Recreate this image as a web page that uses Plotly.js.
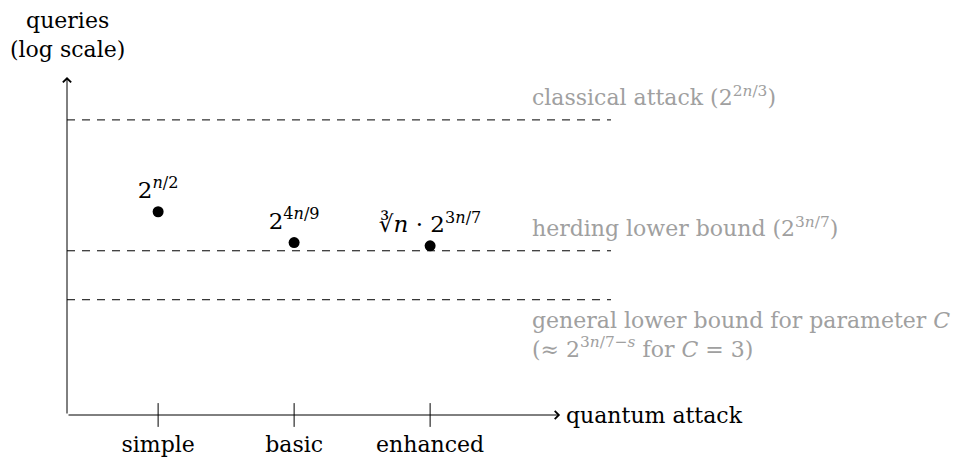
<!DOCTYPE html>
<html>
<head>
<meta charset="utf-8">
<script src="https://cdn.plot.ly/plotly-3.0.1.min.js"></script>
<style>
  html, body { margin: 0; padding: 0; background: #fff; }
  #chart { width: 962px; height: 459px; }
</style>
</head>
<body>
<div id="chart"></div>
<script>
// Quantum attack variants along the horizontal axis
const attacks = ['simple', 'basic', 'enhanced'];
const attackPos = [1, 2, 3];

// Query cost of each attack, as the exponent e in 2^(e·n) (log scale)
const attackExp = [0.5, 0.444, 0.438];
const attackLabels = [
  '2<sup><i>n</i>/2</sup>',
  '2<sup>4<i>n</i>/9</sup>',
  '∛<i>n</i> · 2<sup>3<i>n</i>/7</sup>'
];

// Reference bounds drawn as dashed horizontal lines
const boundExp = [0.667, 0.429, 0.34];
const boundLabels = [
  'classical attack (2<sup>2<i>n</i>/3</sup>)',
  'herding lower bound (2<sup>3<i>n</i>/7</sup>)',
  'general lower bound for parameter <i>C</i><br>(≈ 2<sup>3<i>n</i>/7−<i>s</i></sup> for <i>C</i> = 3)'
];

// Axis extents
const xRange = [0.33, 4.33];
const yRange = [0.1304, 0.745];
const xArrowEnd = 3.956;

const FONT = 'DejaVu Serif, Liberation Serif, serif';
const GREY = '#a0a0a0';

const traces = [];

// dashed bound lines across the plot
boundExp.forEach(function (v) {
  traces.push({
    type: 'scatter', mode: 'lines',
    x: [xRange[0], xRange[1]], y: [v, v],
    line: { color: '#000', width: 1, dash: '8px,7px' },
    hoverinfo: 'skip', showlegend: false
  });
});

// tick marks crossing the horizontal axis
traces.push({
  type: 'scatter', mode: 'markers',
  x: attackPos, y: attackPos.map(function () { return yRange[0]; }),
  marker: { symbol: 'line-ns-open', size: 17, color: '#000', line: { color: '#000', width: 1 } },
  cliponaxis: false, hoverinfo: 'skip', showlegend: false
});

// attack cost points with their formulas
traces.push({
  type: 'scatter', mode: 'markers+text',
  x: attackPos, y: attackExp,
  text: attackLabels, textposition: 'top center',
  textfont: { family: FONT, size: 23, color: '#000' },
  marker: { color: '#000', size: 11 },
  cliponaxis: false, hoverinfo: 'skip', showlegend: false
});

const annotations = [];

// vertical axis with arrow
annotations.push({
  x: xRange[0], y: yRange[1], xref: 'x', yref: 'y',
  ax: xRange[0], ay: yRange[0], axref: 'x', ayref: 'y',
  text: '', showarrow: true, arrowhead: 4, arrowsize: 1.6, arrowwidth: 1, arrowcolor: '#000'
});
// horizontal axis with arrow
annotations.push({
  x: xArrowEnd, y: yRange[0], xref: 'x', yref: 'y',
  ax: xRange[0], ay: yRange[0], axref: 'x', ayref: 'y',
  text: '', showarrow: true, arrowhead: 4, arrowsize: 1.6, arrowwidth: 1, arrowcolor: '#000'
});

// axis titles
annotations.push({
  x: xRange[0], y: yRange[1], xref: 'x', yref: 'y',
  xanchor: 'center', yanchor: 'bottom', yshift: 13,
  text: 'queries<br>(log scale)', showarrow: false,
  font: { family: FONT, size: 22, color: '#000' }
});
annotations.push({
  x: xArrowEnd, y: yRange[0], xref: 'x', yref: 'y',
  xanchor: 'left', yanchor: 'middle', xshift: 4,
  text: 'quantum attack', showarrow: false,
  font: { family: FONT, size: 22, color: '#000' }
});

// bound labels
const boundLabelX = 3.735;
boundLabels.forEach(function (t, i) {
  const below = i === 2;
  annotations.push({
    x: boundLabelX, y: boundExp[i], xref: 'x', yref: 'y',
    xanchor: 'left', yanchor: below ? 'top' : 'bottom', align: 'left',
    yshift: below ? -6 : 8,
    text: t, showarrow: false,
    font: { family: FONT, size: 22, color: GREY }
  });
});

const layout = {
  width: 962, height: 459,
  margin: { l: 67, r: 351, t: 77, b: 44, pad: 0 },
  paper_bgcolor: '#fff', plot_bgcolor: '#fff',
  showlegend: false,
  xaxis: {
    range: xRange, showgrid: false, zeroline: false, showline: false,
    tickmode: 'array', tickvals: attackPos, ticktext: attacks,
    ticks: 'outside', ticklen: 10, tickcolor: 'rgba(0,0,0,0)',
    tickfont: { family: FONT, size: 22, color: '#000' }
  },
  yaxis: {
    range: yRange, showgrid: false, zeroline: false, showline: false,
    showticklabels: false, ticks: ''
  },
  annotations: annotations
};

Plotly.newPlot('chart', traces, layout, { staticPlot: true, displayModeBar: false });
</script>
</body>
</html>
